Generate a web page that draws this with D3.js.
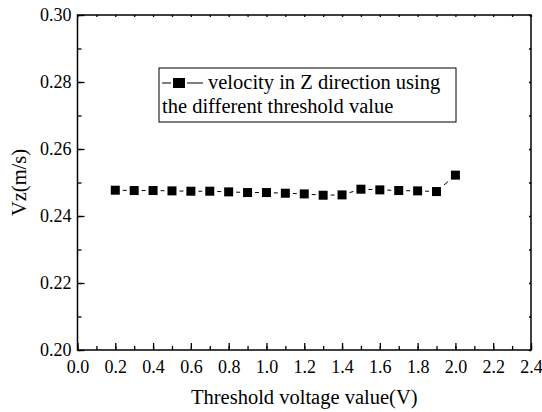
<!DOCTYPE html>
<html><head><meta charset="utf-8">
<script src="https://cdn.jsdelivr.net/npm/d3@7"></script>
<style>body{margin:0;background:#fff}svg{display:block}</style>
</head><body>
<svg id="c" width="542" height="412" font-family="'Liberation Serif', 'Times New Roman', serif"></svg>
<script>
const thresholds = [0.2,0.3,0.4,0.5,0.6,0.7,0.8,0.9,1.0,1.1,1.2,1.3,1.4,1.5,1.6,1.7,1.8,1.9,2.0];
const velocityZ = [0.2477,0.2476,0.2476,0.2475,0.2474,0.2474,0.2472,0.2470,0.2470,0.2468,0.2466,0.2462,0.2463,0.2480,0.2478,0.2476,0.2475,0.2473,0.2522];
const xTicks = [0.0,0.2,0.4,0.6,0.8,1.0,1.2,1.4,1.6,1.8,2.0,2.2,2.4];
const yTicks = [0.20,0.22,0.24,0.26,0.28,0.30];
const legendLines = ["velocity in Z direction using","the different threshold value"];
const xTitle = "Threshold voltage value(V)";
const yTitle = "Vz(m/s)";

const FF = "'Liberation Serif', 'Times New Roman', serif";
const svg = d3.select("#c");
const L=77.5, R=531, T=15, B=350;
const x = d3.scaleLinear().domain([0,2.4]).range([L,R]);
const y = d3.scaleLinear().domain([0.20,0.30]).range([B,T]);

const xMinor = d3.range(0,2.41,0.1).map(v=>+v.toFixed(2));
const yMinor = d3.range(0.20,0.301,0.01).map(v=>+v.toFixed(3));

// bottom axis
const gb = svg.append("g").attr("transform",`translate(0,${B})`);
gb.call(d3.axisBottom(x).tickValues(xMinor).tickSize(-4).tickFormat(""));
gb.call(g=>g.selectAll(".domain").remove());
gb.append("g").call(d3.axisBottom(x).tickValues(xTicks).tickSize(-7).tickFormat(d3.format(".1f")))
  .attr("font-family",FF).attr("font-size",18)
  .call(g=>g.select(".domain").remove())
  .call(g=>g.selectAll("text").attr("y",10).attr("dy","0.71em").attr("fill","#000"));
// left axis
const gl = svg.append("g").attr("transform",`translate(${L},0)`);
gl.call(d3.axisLeft(y).tickValues(yMinor).tickSize(-4).tickFormat(""));
gl.call(g=>g.selectAll(".domain").remove());
gl.append("g").call(d3.axisLeft(y).tickValues(yTicks).tickSize(-7).tickFormat(d3.format(".2f")))
  .attr("font-family",FF).attr("font-size",18)
  .call(g=>g.select(".domain").remove())
  .call(g=>g.selectAll("text").attr("x",-6).attr("fill","#000"));
// top & right tiny ticks
svg.append("g").attr("transform",`translate(0,${T})`).call(d3.axisTop(x).tickValues(xMinor).tickSize(-2).tickFormat("")).call(g=>g.select(".domain").remove());
svg.append("g").attr("transform",`translate(${R},0)`).call(d3.axisRight(y).tickValues(yMinor).tickSize(-2).tickFormat("")).call(g=>g.select(".domain").remove());
svg.selectAll(".tick line").attr("stroke","#000").attr("stroke-width",1.3);

// frame
svg.append("rect").attr("x",L).attr("y",T).attr("width",R-L).attr("height",B-T)
  .attr("fill","none").attr("stroke","#000").attr("stroke-width",1.5);

// data
const pts = thresholds.map((t,i)=>({t,v:velocityZ[i]}));
svg.append("path").datum(pts).attr("fill","none").attr("stroke","#000").attr("stroke-width",1)
  .attr("d",d3.line().x(d=>x(d.t)).y(d=>y(d.v)));
const ms=9, gap=3;
svg.selectAll(".mw").data(pts).join("rect").attr("fill","#fff")
  .attr("x",d=>x(d.t)-ms/2-gap).attr("y",d=>y(d.v)-ms/2-gap).attr("width",ms+2*gap).attr("height",ms+2*gap);
svg.selectAll(".mk").data(pts).join("rect").attr("fill","#000")
  .attr("x",d=>x(d.t)-ms/2).attr("y",d=>y(d.v)-ms/2).attr("width",ms).attr("height",ms);

// legend
const lg = svg.append("g").attr("font-family",FF).attr("font-size",20.5);
lg.append("rect").attr("x",159).attr("y",68).attr("width",297).attr("height",54)
  .attr("fill","#fff").attr("stroke","#000").attr("stroke-width",1);
lg.append("line").attr("x1",162).attr("x2",203).attr("y1",83).attr("y2",83).attr("stroke","#000").attr("stroke-width",1);
lg.append("rect").attr("x",171).attr("y",76.5).attr("width",16).attr("height",13).attr("fill","#fff");
lg.append("rect").attr("x",173).attr("y",78).attr("width",12).attr("height",10).attr("fill","#000");
lg.append("text").attr("x",208).attr("y",89).text(legendLines[0]);
lg.append("text").attr("x",162).attr("y",113).text(legendLines[1]);

// titles
svg.append("text").attr("x",(L+R)/2).attr("y",404).attr("text-anchor","middle").attr("font-size",20.5).text(xTitle);
svg.append("text").attr("transform",`translate(26,${(T+B)/2}) rotate(-90)`).attr("text-anchor","middle").attr("font-size",20.5).text(yTitle);
</script>
</body></html>
